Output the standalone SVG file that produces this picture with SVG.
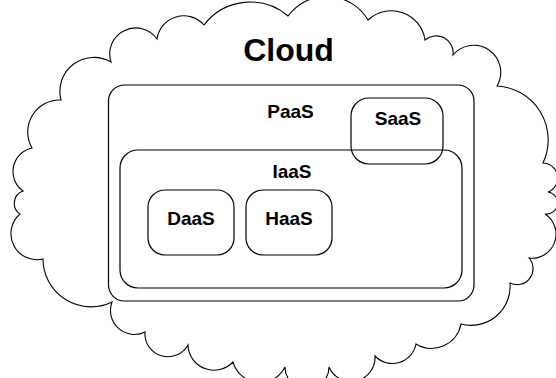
<svg xmlns="http://www.w3.org/2000/svg" width="556" height="378" viewBox="0 0 556 378">
  <style>
    .outline { fill: none; stroke: #000; stroke-width: 1.1; }
    .box { fill: none; stroke: #000; stroke-width: 1.2; }
    .label { font-family: "Liberation Sans", Arial, sans-serif; font-weight: bold; font-size: 19px; text-anchor: middle; fill: #000; }
    .title { font-family: "Liberation Sans", Arial, sans-serif; font-weight: bold; font-size: 32px; text-anchor: middle; fill: #000; }
  </style>
  <rect width="556" height="378" fill="#fff"/>
  <g id="cloud">
    <path class="outline" d="M 32 148
      A 32 32 0 0 1 61 100
      A 34 34 0 0 1 111 62
      A 26 26 0 0 1 157 39
      A 27 27 0 0 1 204 25
      A 58 58 0 0 1 288 16
      A 48 48 0 0 1 368 20
      A 34 34 0 0 1 425 40
      A 17 17 0 0 1 453 55
      A 27 27 0 0 1 497 86
      A 54 54 0 0 1 543 163
      A 15 15 0 0 1 548 192
      A 11 11 0 0 1 545 214
      A 24 24 0 0 1 529 258
      A 16 16 0 0 1 510 283
      A 39 39 0 0 1 461 324
      A 30 30 0 0 1 416 344
      A 24 24 0 0 1 375 356
      A 24 24 0 0 1 329 367
      A 22 22 0 0 1 285 367
      A 28 28 0 0 1 233 362
      A 26 26 0 0 1 188 345
      A 23 23 0 0 1 145 332
      A 24 24 0 0 1 112 302
      A 48 48 0 0 1 43 259
      A 26 26 0 0 1 20 214
      A 13 13 0 0 1 23 191
      A 24 24 0 0 1 32 148 Z"/>
    <text class="title" x="288.5" y="61">Cloud</text>
  </g>
  <g id="paas">
    <rect class="box" x="108.5" y="85" width="365.5" height="216" rx="16"/>
    <text class="label" x="290.5" y="117.5">PaaS</text>
  </g>
  <g id="iaas">
    <rect class="box" x="120" y="150" width="342" height="138" rx="18"/>
    <text class="label" x="292" y="177.5">IaaS</text>
  </g>
  <g id="saas">
    <rect class="box" x="351" y="98" width="92" height="66" rx="18"/>
    <text class="label" x="398" y="124.5">SaaS</text>
  </g>
  <g id="daas">
    <rect class="box" x="148" y="190" width="86" height="65" rx="17"/>
    <text class="label" x="191" y="224.5">DaaS</text>
  </g>
  <g id="haas">
    <rect class="box" x="246" y="190" width="86" height="65" rx="17"/>
    <text class="label" x="289" y="224.5">HaaS</text>
  </g>
  <g id="connectors"/>
</svg>
